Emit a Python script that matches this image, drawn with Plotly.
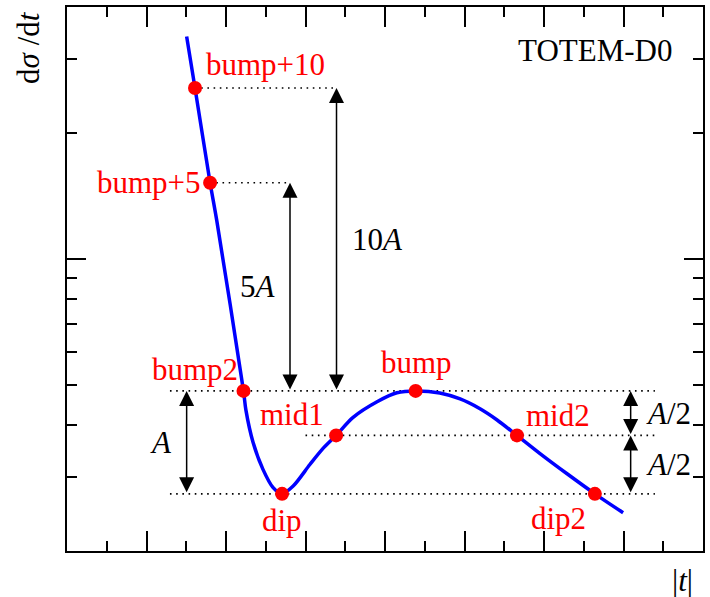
import numpy as np
import plotly.graph_objects as go

# ---- data (x in tick units, y = dsigma/dt on a log axis) ----
curve_x = [3.01, 3.22, 3.60, 3.77, 4.44, 4.50, 4.68, 4.93, 5.18, 5.41, 5.69, 6.11, 6.42,
           6.77, 7.19, 7.80, 8.30, 8.77, 9.38, 9.89, 10.39, 10.82, 11.32, 11.90, 12.58,
           13.28, 13.99]
curve_y = [3.40, 2.56, 1.52, 1.23, 0.483, 0.435, 0.364, 0.3135, 0.284, 0.274, 0.286,
           0.322, 0.350, 0.378, 0.417, 0.455, 0.478, 0.483, 0.4775, 0.462, 0.4377, 0.4115,
           0.378, 0.342, 0.306, 0.274, 0.247]

point_names = ["bump+10", "bump+5", "bump2", "dip", "mid1", "bump", "mid2", "dip2"]
point_x = [3.22, 3.60, 4.44, 5.41, 6.77, 8.77, 11.32, 13.28]
point_y = [2.56, 1.52, 0.483, 0.274, 0.378, 0.483, 0.378, 0.274]

# dotted reference levels
level_y = [2.56, 1.52, 0.483, 0.378, 0.274]
level_x0 = [3.22, 3.60, 2.59, 6.00, 2.59]
level_x1 = [6.79, 5.61, 14.79, 14.79, 14.79]

# double arrows
arrow_x = [3.01, 5.61, 6.78, 14.18, 14.18]
arrow_top = [0.483, 1.52, 2.56, 0.483, 0.378]
arrow_bottom = [0.274, 0.483, 0.483, 0.378, 0.274]
arrow_labels = ["<i>A</i>", "5<i>A</i>", "10<i>A</i>", "<i>A</i>/2", "<i>A</i>/2"]

stray_x = [-1.48]
stray_y = [0.265]

x_major = [2, 4, 6, 8, 10, 12, 14]
x_minor = [1, 3, 5, 7, 9, 11, 13, 15]
y_major = [1]
y_minor = [0.3, 0.4, 0.5, 0.6, 0.7, 0.8, 0.9, 2, 3]

FONT = "Liberation Serif"
RED = "#ff0000"
BLUE = "#0000ff"
FS = 31

fig = go.Figure()

for yv, x0, x1 in zip(level_y, level_x0, level_x1):
    fig.add_trace(go.Scatter(x=[x0, x1], y=[yv, yv], mode="lines",
                             line=dict(color="black", width=1.6, dash="1.6px,4.6px"),
                             hoverinfo="skip"))

fig.add_trace(go.Scatter(x=curve_x, y=curve_y, mode="lines",
                         line=dict(color=BLUE, width=3.5, shape="spline", smoothing=0.8),
                         hoverinfo="skip"))

fig.add_trace(go.Scatter(x=point_x, y=point_y, mode="markers",
                         marker=dict(color=RED, size=14), hoverinfo="skip"))

fig.add_trace(go.Scatter(x=stray_x, y=stray_y, mode="markers", cliponaxis=False,
                         marker=dict(color=RED, size=6), hoverinfo="skip"))

ann = []
# label offsets (xanchor, xshift, yshift) for the red point labels
label_style = {
    "bump+10": ("left", 9, 24),
    "bump+5": ("right", -7, 0),
    "bump2": ("right", -3, 21),
    "dip": ("center", 0, -27),
    "mid1": ("right", -10, 21),
    "bump": ("center", 1, 28),
    "mid2": ("left", 7, 20),
    "dip2": ("right", -7, -25),
}
for n, xv, yv in zip(point_names, point_x, point_y):
    xa, xs, ys = label_style[n]
    ann.append(dict(x=xv, y=np.log10(yv), xref="x", yref="y", text=n, showarrow=False,
                    xanchor=xa, yanchor="middle", xshift=xs, yshift=ys,
                    font=dict(family=FONT, size=FS, color=RED)))

arrow_label_style = [("right", -13), ("right", -12), ("left", 13), ("left", 13), ("left", 13)]
for xv, yt, yb, lab, (xa, xs) in zip(arrow_x, arrow_top, arrow_bottom, arrow_labels,
                                      arrow_label_style):
    ann.append(dict(x=xv, y=np.log10(yt), ax=xv, ay=np.log10(yb), xref="x", yref="y",
                    axref="x", ayref="y", text="", showarrow=True, arrowhead=2,
                    arrowside="end+start", arrowsize=2.0, arrowwidth=1.5,
                    arrowcolor="black", standoff=0, startstandoff=0,
                    font=dict(size=1)))
    ann.append(dict(x=xv, y=(np.log10(yt) + np.log10(yb)) / 2, xref="x", yref="y",
                    text=lab, showarrow=False, xanchor=xa, yanchor="middle", xshift=xs,
                    font=dict(family=FONT, size=FS, color="black")))

ann.append(dict(x=0.954, y=0.92, xref="paper", yref="paper", text="TOTEM-D0",
                showarrow=False, xanchor="right", yanchor="middle",
                font=dict(family=FONT, size=31, color="black")))
ann.append(dict(x=-0.03, y=1.0, xref="paper", yref="paper",
                text="d<i>σ</i> /d<i>t</i>", textangle=-90, showarrow=False,
                xanchor="right", yanchor="top", yshift=-2,
                font=dict(family=FONT, size=31, color="black")))
ann.append(dict(x=0.988, y=0, xref="paper", yref="paper", text="|<i>t</i>|",
                showarrow=False, xanchor="right", yanchor="top", yshift=-10,
                font=dict(family=FONT, size=31, color="black")))

tick_common = dict(showgrid=False, zeroline=False, showline=True, linecolor="black",
                   linewidth=2, mirror="ticks", ticks="inside", tickcolor="black",
                   tickwidth=1.5, showticklabels=False)

fig.update_layout(
    width=710, height=597,
    margin=dict(l=67, r=7, t=5, b=46),
    paper_bgcolor="white", plot_bgcolor="white",
    showlegend=False,
    annotations=ann,
    xaxis=dict(range=[0, 16], tickvals=x_major, ticklen=20,
               minor=dict(tickvals=x_minor, ticklen=10, ticks="inside",
                          tickcolor="black", tickwidth=1.5),
               **tick_common),
    yaxis=dict(type="log", range=[np.log10(0.2), np.log10(4)], tickvals=y_major,
               ticklen=19,
               minor=dict(tickvals=y_minor, ticklen=10, ticks="inside",
                          tickcolor="black", tickwidth=1.5),
               **tick_common),
)

fig.write_html("out.html")
